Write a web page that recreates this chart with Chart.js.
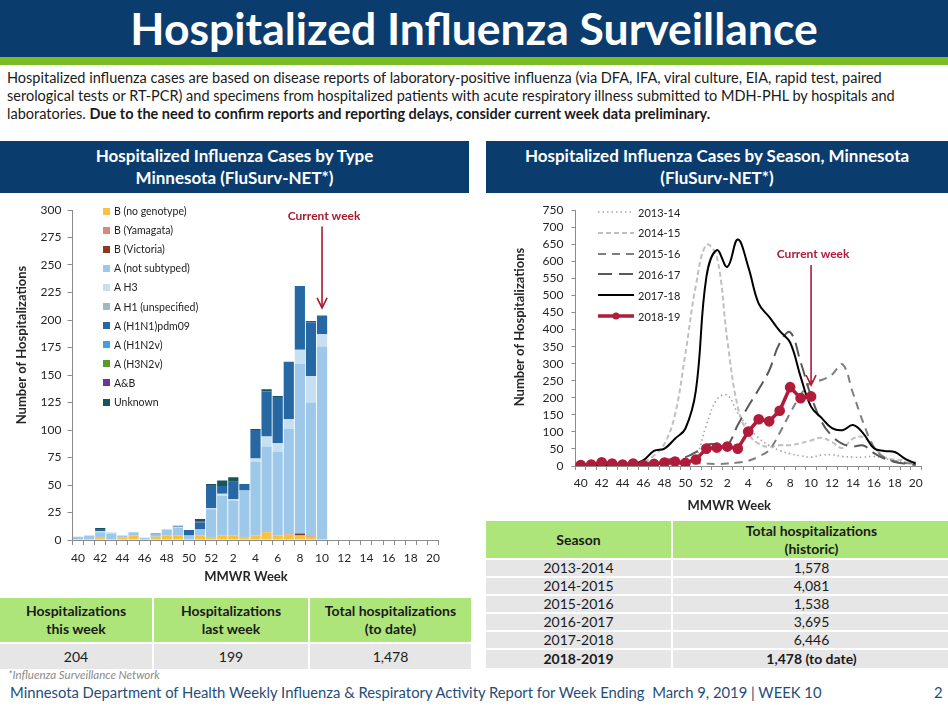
<!DOCTYPE html>
<html>
<head>
<meta charset="utf-8">
<script src="https://cdn.jsdelivr.net/npm/chart.js@4.4.1/dist/chart.umd.min.js"></script>
<style>
body{margin:0;width:948px;height:708px;position:relative;overflow:hidden;background:#fff;color:#222;font-family:Lato,"Open Sans",sans-serif}
.abs{position:absolute}
#banner{left:0;top:0;width:948px;height:57px;background:#0b3c6e;color:#fff;font-weight:bold;font-size:44.5px;text-align:center;line-height:56px}
#stripe{left:0;top:57px;width:948px;height:8px;background:#7abd25}
#intro{left:7px;top:69px;font-size:14.5px;line-height:18px;white-space:nowrap;color:#1a1a1a}
.hdr{top:141px;height:52px;background:#0b3c6e;color:#fff;font-weight:bold;font-size:17px;text-align:center;line-height:22px;padding-top:4px;box-sizing:border-box}
table{border-collapse:collapse;position:absolute;text-align:center;font-size:14px;table-layout:fixed}
td,th{border:2px solid #fff;padding:0;color:#1a1a1a}
th{background:#aee57b;font-weight:bold;line-height:18px}
td{background:#e6e6e6;line-height:14px}
.leg{position:absolute;font-size:10.5px;color:#222;white-space:nowrap}
.leg div{position:absolute;left:0;display:flex;align-items:center}
.sw{display:inline-block;width:7px;height:7px;margin-right:4px}
#legR{font-size:11px}
#legR svg{margin-right:3px}
#note{left:8px;top:668px;font-size:11.5px;font-style:italic;color:#8a8a8a}
#foot{left:10px;top:683px;font-size:14.8px;color:#1f4e79;white-space:nowrap}
#page{left:934px;top:683px;font-size:14.8px;color:#1f4e79}
</style>
</head>
<body>
<div id="banner" class="abs">Hospitalized Influenza Surveillance</div>
<div id="stripe" class="abs"></div>
<div id="intro" class="abs">Hospitalized influenza cases are based on disease reports of laboratory-positive influenza (via DFA, IFA, viral culture, EIA, rapid test, paired<br>serological tests or RT-PCR) and specimens from hospitalized patients with acute respiratory illness submitted to MDH-PHL by hospitals and<br>laboratories. <b>Due to the need to confirm reports and reporting delays, consider current week data preliminary.</b></div>

<div class="abs hdr" style="left:0;width:469px">Hospitalized Influenza Cases by Type<br>Minnesota (FluSurv-NET*)</div>
<div class="abs hdr" style="left:486px;width:462px">Hospitalized Influenza Cases by Season, Minnesota<br>(FluSurv-NET*)</div>

<canvas id="typeChart" class="abs" style="left:0;top:195px" width="470" height="394"></canvas>
<canvas id="seasonChart" class="abs" style="left:486px;top:195px" width="462" height="323"></canvas>
<div id="legL" class="leg" style="left:103px;top:202px"></div>
<div id="legR" class="leg" style="left:597px;top:202px"></div>

<table id="tblL" style="left:-2px;top:596px;width:473px">
  <colgroup><col style="width:154px"><col style="width:156px"><col style="width:163px"></colgroup>
  <tr style="height:46px"><th>Hospitalizations<br>this week</th><th>Hospitalizations<br>last week</th><th>Total hospitalizations<br>(to date)</th></tr>
  <tr style="height:27px"><td>204</td><td>199</td><td>1,478</td></tr>
</table>
<table id="tblR" style="left:484px;top:519px;width:466px">
  <colgroup><col style="width:187px"><col style="width:279px"></colgroup>
  <tr style="height:39px"><th>Season</th><th>Total hospitalizations<br>(historic)</th></tr>
</table>

<div id="note" class="abs">*Influenza Surveillance Network</div>
<div id="foot" class="abs">Minnesota Department of Health Weekly Influenza &amp; Respiratory Activity Report for Week Ending&nbsp; March 9, 2019 | WEEK 10</div>
<div id="page" class="abs">2</div>

<script>
// MMWR weeks 40 through 20
const weeks = ['40','41','42','43','44','45','46','47','48','49','50','51','52',
  '1','2','3','4','5','6','7','8','9','10','11','12','13','14','15','16','17','18','19','20'];

// 2018-19 cases by type, weeks 40 - 10
const bNoGenotype = [0,0,2,0,2,4,0,3,4,4,0,4,2,4,4,2,4,7,4,5,4,3,0];
const bYamagata   = [0,0,0,0,0,0,0,0,0,0,0,0,0,0,0,0,0,0,0,1,0,1,0];
const bVictoria   = [0,0,0,0,0,0,0,0,0,0,0,0,0,0,0,0,0,0,0,0,2,0,0];
const aNotSubtyped= [3,4,5,6,2,3,2,2,5,7,4,6,26,36,32,43,67,78,76,95,154,121,176];
const aH3         = [0,0,1,1,0,0,0,0,1,1,0,0,1,2,1,0,3,9,8,9,13,24,11];
const aH1         = [0,0,0,0,0,0,0,0,0,0,0,0,0,0,0,0,0,0,0,0,0,0,0];
const aH1N1pdm09  = [0,0,2,0,0,0,0,1,0,1,5,6,21,7,16,6,26,41,42,52,58,49,17];
const aH1N2v      = [0,0,0,0,0,0,0,0,0,0,0,0,0,0,0,0,0,0,0,0,0,0,0];
const aH3N2v      = [0,0,0,0,0,0,0,0,0,0,0,0,0,0,0,0,0,0,0,0,0,0,0];
const aAndB       = [0,0,0,0,0,0,0,0,0,0,0,1,0,0,0,0,0,0,0,0,0,1,0];
const unknown     = [0,0,1,0,0,0,0,0,0,0,0,2,1,5,4,0,1,2,1,0,0,0,0];

const typeNames = ['B (no genotype)','B (Yamagata)','B (Victoria)','A (not subtyped)','A H3',
  'A H1 (unspecified)','A (H1N1)pdm09','A (H1N2v)','A (H3N2v)','A&B','Unknown'];
const typeData = [bNoGenotype,bYamagata,bVictoria,aNotSubtyped,aH3,aH1,aH1N1pdm09,aH1N2v,aH3N2v,aAndB,unknown];
const typeColors = ['#f7c242','#d9887a','#8b3a22','#9dc8e9','#c6e0f2','#9fb8c2','#2668a3','#3fa0ea','#5a9a28','#7030a0','#17555a'];

// hospitalizations by season
const seasons = ['2013-14','2014-15','2015-16','2016-17','2017-18','2018-19'];
const s1314 = [1,1,1,2,2,2,3,3,4,5,7,26,120,195,208,155,115,82,60,45,36,30,26,32,33,28,26,26,28,22,16,11,7];
const s1415 = [0,1,2,3,4,6,12,31,65,150,330,530,648,613,369,173,95,65,56,61,61,67,75,83,70,53,80,85,56,26,19,17,12];
const s1516 = [2,2,3,3,4,4,5,5,6,6,7,8,7,6,7,10,15,28,47,97,155,208,246,252,268,298,214,126,56,25,14,9,7];
const s1617 = [2,2,3,3,4,5,7,12,17,22,26,41,62,64,62,120,175,225,280,360,392,305,205,130,88,65,58,60,38,22,12,7,3];
const s1718 = [2,2,3,3,4,5,17,44,51,80,110,222,554,633,584,664,584,476,437,396,362,262,174,141,111,105,120,95,52,44,41,21,7];
const s1819 = [3,4,11,7,4,7,2,6,10,13,9,19,51,54,57,51,101,137,131,162,231,199,204];

const seasonTotals = ['1,578','4,081','1,538','3,695','6,446','1,478 (to date)'];
const seasonRows = ['2013-2014','2014-2015','2015-2016','2016-2017','2017-2018','2018-2019'];

const red = '#b01c3a';
const axisGray = '#8c8c8c';
Chart.defaults.font.family = 'Lato';
Chart.defaults.color = '#262626';

// "Current week" arrow + label, placed with the chart's own scales
const currentWeek = {
  id: 'currentWeek',
  afterDatasetsDraw(chart, args, o) {
    const {ctx, scales: {x, y}} = chart;
    const px = x.getPixelForValue(o.index);
    const y0 = y.getPixelForValue(o.from), y1 = y.getPixelForValue(o.to);
    ctx.save();
    ctx.strokeStyle = o.color;
    ctx.lineWidth = 1.6;
    ctx.beginPath(); ctx.moveTo(px, y0); ctx.lineTo(px, y1); ctx.stroke();
    ctx.beginPath(); ctx.moveTo(px - 5, y1 - 10); ctx.lineTo(px, y1); ctx.lineTo(px + 5, y1 - 10); ctx.stroke();
    ctx.fillStyle = o.color;
    ctx.font = 'bold 12px Lato';
    ctx.textAlign = 'center';
    ctx.textBaseline = 'middle';
    ctx.fillText('Current week', px + o.dx, y.getPixelForValue(o.textAt));
    ctx.restore();
  }
};

const evenLabel = (v, i) => i % 2 === 0 ? weeks[i] : '';

new Chart(document.getElementById('typeChart'), {
  type: 'bar',
  data: {
    labels: weeks,
    datasets: typeNames.map((n, k) => ({
      label: n,
      data: typeData[k],
      backgroundColor: typeColors[k],
      borderWidth: 0,
      barPercentage: 1,
      categoryPercentage: 0.92
    }))
  },
  options: {
    responsive: false,
    animation: false,
    events: [],
    layout: {padding: {left: 0, right: 31.5, top: 15, bottom: 0}},
    plugins: {
      legend: {display: false},
      tooltip: {enabled: false},
      currentWeek: {index: 22, from: 285, to: 211, textAt: 294, dx: 2, color: '#a51c30'}
    },
    scales: {
      x: {
        stacked: true,
        grid: {drawOnChartArea: false, tickLength: 5, color: axisGray},
        border: {color: axisGray},
        ticks: {autoSkip: false, maxRotation: 0, padding: 6, font: {size: 12}, callback: evenLabel},
        title: {display: true, text: 'MMWR Week      ', font: {size: 13, weight: 'bold'}, padding: {top: 0, bottom: 4}},
        afterFit: s => { s.height = 49; }
      },
      y: {
        stacked: true,
        min: 0, max: 300,
        grid: {drawOnChartArea: false, tickLength: 5, color: axisGray},
        border: {color: axisGray},
        ticks: {stepSize: 25, autoSkip: false, padding: 6, font: {size: 12}},
        title: {display: true, text: '                   Number of Hospitalizations', font: {size: 13, weight: 'bold'}, padding: {top: 14, bottom: 0}},
        afterFit: s => { s.width = 72.5; }
      }
    }
  },
  plugins: [currentWeek]
});

const lineStyles = [
  {color: '#a6a6a6', width: 1.6, dash: [1.5, 3]},
  {color: '#c0c0c0', width: 2, dash: [5, 3]},
  {color: '#7f7f7f', width: 2, dash: [8, 6]},
  {color: '#595959', width: 2, dash: [14, 7]},
  {color: '#000000', width: 2, dash: []},
  {color: red, width: 3.5, dash: []}
];
const seasonData = [s1314, s1415, s1516, s1617, s1718, s1819];

new Chart(document.getElementById('seasonChart'), {
  type: 'line',
  data: {
    labels: weeks,
    datasets: seasons.map((n, k) => ({
      label: n,
      data: seasonData[k],
      borderColor: lineStyles[k].color,
      backgroundColor: lineStyles[k].color,
      borderWidth: lineStyles[k].width,
      borderDash: lineStyles[k].dash,
      pointRadius: k === 5 ? 3.6 : 0,
      tension: k === 5 ? 0 : 0.4,
      fill: false,
      order: 6 - k
    }))
  },
  options: {
    responsive: false,
    animation: false,
    events: [],
    layout: {padding: {left: 0, right: 27, top: 15, bottom: 0}},
    plugins: {
      legend: {display: false},
      tooltip: {enabled: false},
      currentWeek: {index: 22, from: 589, to: 237, textAt: 622, dx: 2, color: red}
    },
    scales: {
      x: {
        offset: true,
        grid: {offset: true, drawOnChartArea: false, tickLength: 4, color: axisGray},
        border: {color: axisGray},
        ticks: {autoSkip: false, maxRotation: 0, padding: 6, font: {size: 12}, callback: evenLabel},
        title: {display: true, text: 'MMWR Week            ', font: {size: 13, weight: 'bold'}, padding: {top: 0, bottom: 4}},
        afterFit: s => { s.height = 52; }
      },
      y: {
        min: 0, max: 750,
        grid: {drawOnChartArea: false, tickLength: 4, color: axisGray},
        border: {color: axisGray},
        ticks: {stepSize: 50, autoSkip: false, padding: 8, font: {size: 12}},
        title: {display: true, text: '       Number of Hospitalizations', font: {size: 13, weight: 'bold'}, padding: {top: 26, bottom: 0}},
        afterFit: s => { s.width = 89.5; }
      }
    }
  },
  plugins: [currentWeek]
});

// legends
const legL = document.getElementById('legL');
typeNames.forEach((n, k) => {
  const d = document.createElement('div');
  d.style.top = (k * 19.1) + 'px';
  d.style.height = '18px';
  d.innerHTML = '<span class="sw" style="background:' + typeColors[k] + '"></span>';
  d.appendChild(document.createTextNode(n));
  legL.appendChild(d);
});
const legR = document.getElementById('legR');
seasons.forEach((n, k) => {
  const st = lineStyles[k];
  const d = document.createElement('div');
  d.style.top = (k * 20.8) + 'px';
  d.style.height = '20px';
  let svg = '<svg width="38" height="10"><line x1="1" y1="5" x2="37" y2="5" stroke="' + st.color +
    '" stroke-width="' + st.width + '" stroke-dasharray="' + (st.dash.length ? st.dash.join(' ') : 'none') + '"/>';
  if (k === 5) svg += '<circle cx="19" cy="5" r="3.5" fill="' + st.color + '"/>';
  svg += '</svg>';
  d.innerHTML = svg;
  d.appendChild(document.createTextNode(n));
  legR.appendChild(d);
});

// season table rows
const tblR = document.getElementById('tblR');
seasonRows.forEach((s, k) => {
  const tr = document.createElement('tr');
  tr.style.height = k === 5 ? '20px' : '18px';
  const last = k === seasonRows.length - 1;
  tr.innerHTML = '<td' + (last ? ' style="font-weight:bold"' : '') + '>' + s + '</td><td' +
    (last ? ' style="font-weight:bold"' : '') + '>' + seasonTotals[k] + '</td>';
  tblR.appendChild(tr);
});
</script>
</body>
</html>
